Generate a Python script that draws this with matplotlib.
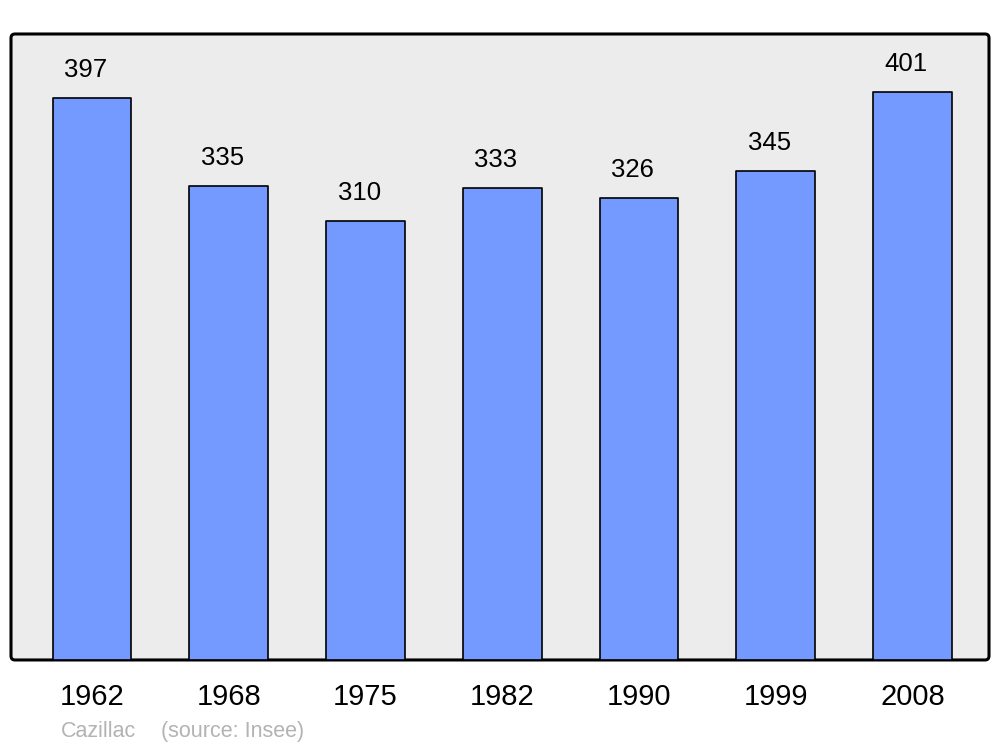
import matplotlib
matplotlib.use("Agg")
import matplotlib.pyplot as plt
from matplotlib.patches import FancyBboxPatch

annees = ["1962", "1968", "1975", "1982", "1990", "1999", "2008"]
population = [397, 335, 310, 333, 326, 345, 401]
commune = "Cazillac"
source = "(source: Insee)"

plt.rcParams["font.family"] = ["Liberation Sans", "DejaVu Sans"]

fig = plt.figure(figsize=(10, 7.47), dpi=100)
ax = fig.add_axes([0.011, 0.1165, 0.978, 0.838])
ax.set_facecolor("none")
ax.set_zorder(2)
for s in ax.spines.values():
    s.set_visible(False)

# cadre arrondi gris
cadre = FancyBboxPatch((0.011, 0.1165), 0.978, 0.838,
                       boxstyle="round,pad=0,rounding_size=0.004",
                       mutation_aspect=1000 / 747,
                       transform=fig.transFigure, facecolor="#ececec",
                       edgecolor="black", linewidth=2.2, zorder=-1)
fig.patches.append(cadre)

x = range(len(annees))
barres = ax.bar(x, population, width=0.575, color="#7499ff",
                edgecolor="black", linewidth=1.2, zorder=2)
for b in barres:
    b.set_joinstyle("round")

for xi, v in zip(x, population):
    ax.annotate(str(v), (xi, v), xytext=(-4.5, 11.5), textcoords="offset points",
                ha="center", va="bottom", fontsize=18.5)

ax.set_xlim(-0.593, 6.56)
ax.set_ylim(0, 442)
ax.set_yticks([])
ax.set_xticks(list(x))
ax.set_xticklabels(annees, fontsize=21)
ax.tick_params(axis="x", length=0, pad=16.5)

fig.text(0.061, 0.013, commune, fontsize=15.5, color="#b3b3b3", ha="left", va="baseline")
fig.text(0.161, 0.013, source, fontsize=15.5, color="#b3b3b3", ha="left", va="baseline")

fig.savefig("out.png", dpi=100)
